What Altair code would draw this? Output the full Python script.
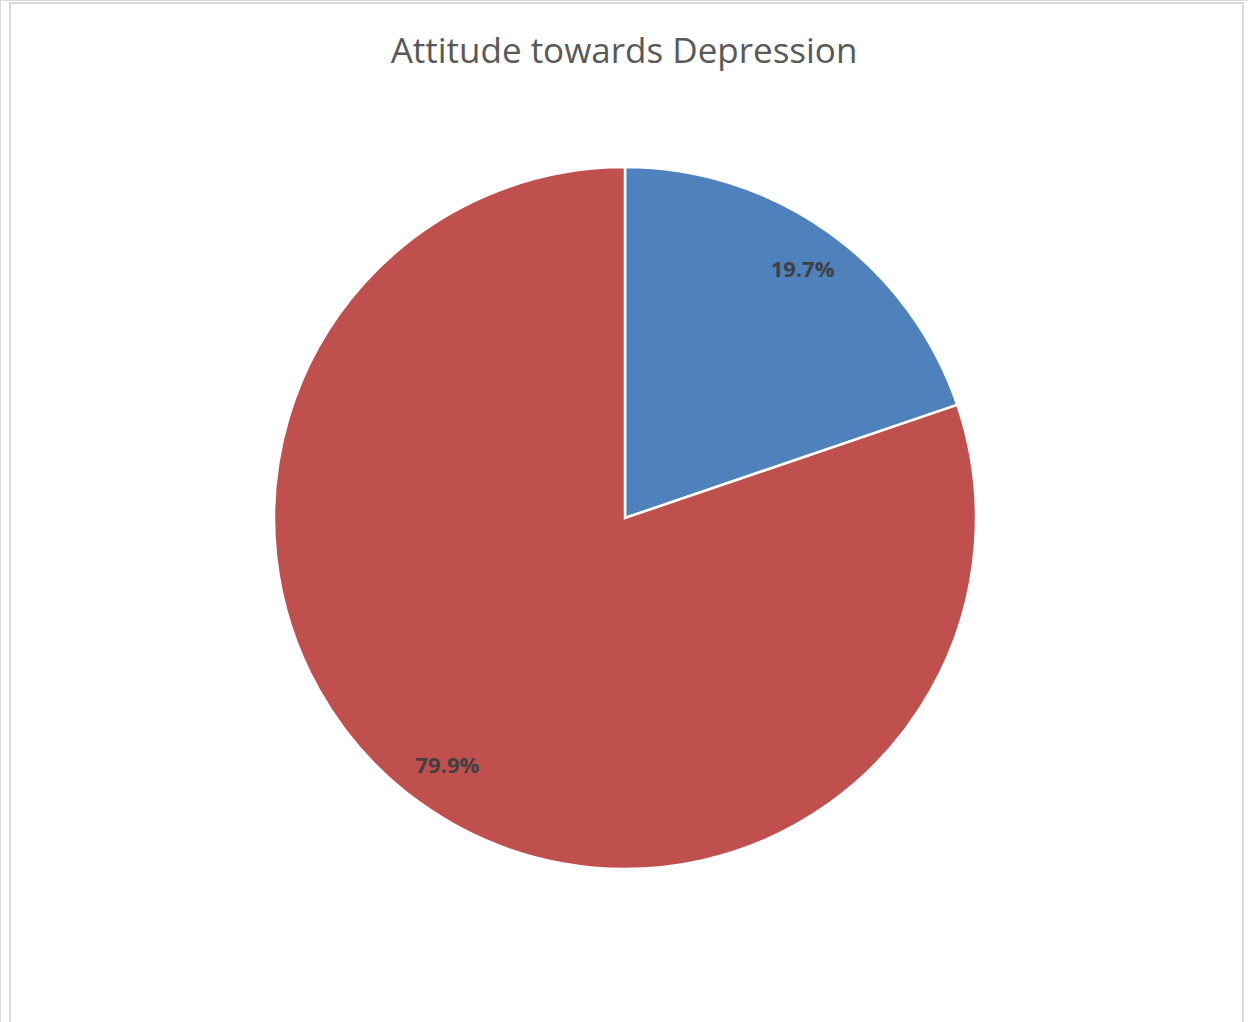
import altair as alt
import pandas as pd

categories = ["Positive", "Negative"]
values = [19.7, 79.9]
labels = ["19.7%", "79.9%"]
colors = ["#4F81BD", "#C0504D"]
title_text = "Attitude towards Depression"

df = pd.DataFrame({"category": categories, "value": values, "label": labels,
                   "order": [0, 1]})

W, H = 1248, 1022
CX, CY, R = 625, 518, 351

base = alt.Chart(df).encode(
    theta=alt.Theta("value:Q", stack=True),
    order=alt.Order("order:Q"),
)

pie = base.mark_arc(radius=R, stroke="white", strokeWidth=2.5).encode(
    x=alt.value(CX), y=alt.value(CY),
    color=alt.Color("category:N", scale=alt.Scale(domain=categories, range=colors), legend=None),
)

text = base.mark_text(radius=305, font="Open Sans", fontSize=22, fontWeight="bold",
                      color="#404040").encode(
    x=alt.value(CX), y=alt.value(CY),
    text="label:N",
)

frame_df = pd.DataFrame({"k": [0]})
frame = alt.Chart(frame_df).mark_rect(fill=None, stroke="#d9d9d9", strokeWidth=2).encode(
    x=alt.value(10), x2=alt.value(1243), y=alt.value(3), y2=alt.value(1040),
)

title_df = pd.DataFrame({"t": [title_text]})
title = alt.Chart(title_df).mark_text(font="Open Sans", fontSize=35, color="#595959",
                                      align="center", baseline="middle").encode(
    x=alt.value(624), y=alt.value(52), text="t:N",
)

chart = alt.layer(frame, pie, text, title).properties(
    width=W, height=H, autosize=alt.AutoSizeParams(type="none"), padding=0,
).configure_view(stroke=None).configure(background="white")

chart.save("out.html", embed_options={"renderer": "svg", "actions": False})
